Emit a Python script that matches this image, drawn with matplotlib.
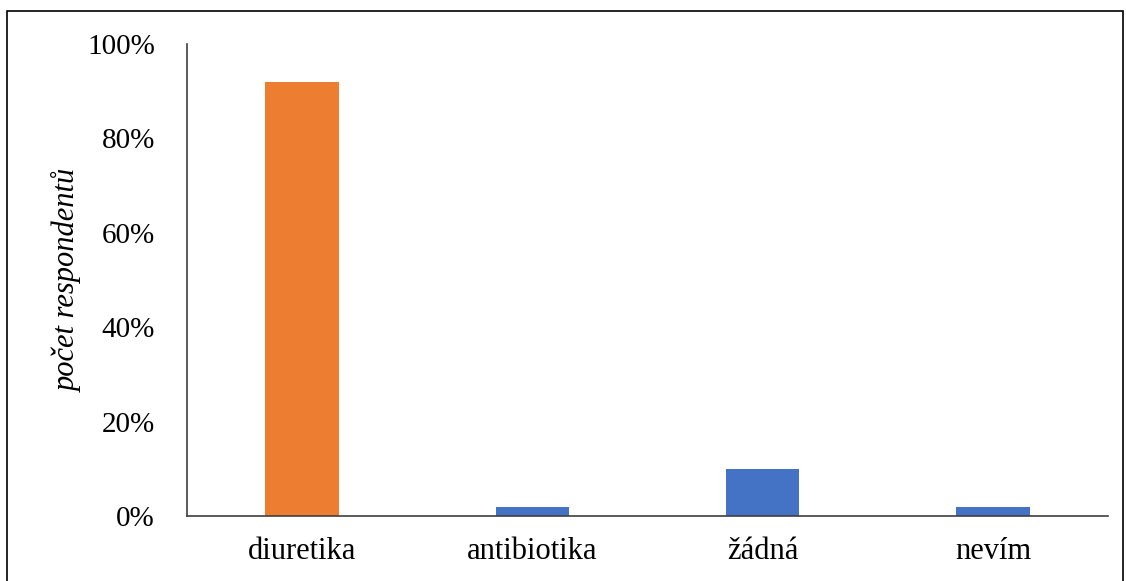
import matplotlib.pyplot as plt
from matplotlib.patches import Rectangle

categories = ["diuretika", "antibiotika", "žádná", "nevím"]
values = [92, 2, 10, 2]
colors = ["#ED7D31", "#4472C4", "#4472C4", "#4472C4"]
yticks = [0, 20, 40, 60, 80, 100]

plt.rcParams["font.family"] = ["Liberation Serif", "DejaVu Serif"]

W, H = 1126, 581
fig = plt.figure(figsize=(W / 100, H / 100), dpi=100)
ax = fig.add_axes([187 / W, 1 - 516 / H, (1108 - 187) / W, (516 - 44) / H])

x = range(len(categories))
ax.bar(x, values, width=0.32, color=colors)

ax.set_xlim(-0.5, len(categories) - 0.5)
ax.set_ylim(0, 100)
ax.set_yticks(yticks)
ax.set_yticklabels([f"{t}%" for t in yticks], fontsize=21)
ax.set_xticks(list(x))
ax.set_xticklabels(categories, fontsize=22)
ax.tick_params(length=0)
ax.tick_params(axis="y", pad=23)
ax.tick_params(axis="x", pad=15)
ax.set_ylabel("počet respondentů", fontsize=22, style="italic")
ax.yaxis.set_label_coords(-0.113, 0.5)

for s in ["top", "right"]:
    ax.spines[s].set_visible(False)
for s in ["left", "bottom"]:
    ax.spines[s].set_color("#404040")
    ax.spines[s].set_linewidth(1.2)

# outer frame around the chart
fig.patches.append(Rectangle((7 / W, -0.05), (1123 - 7) / W, 1.05 - 11 / H,
                             transform=fig.transFigure, fill=False,
                             edgecolor="black", linewidth=1.2))

fig.savefig("out.png", dpi=100)
